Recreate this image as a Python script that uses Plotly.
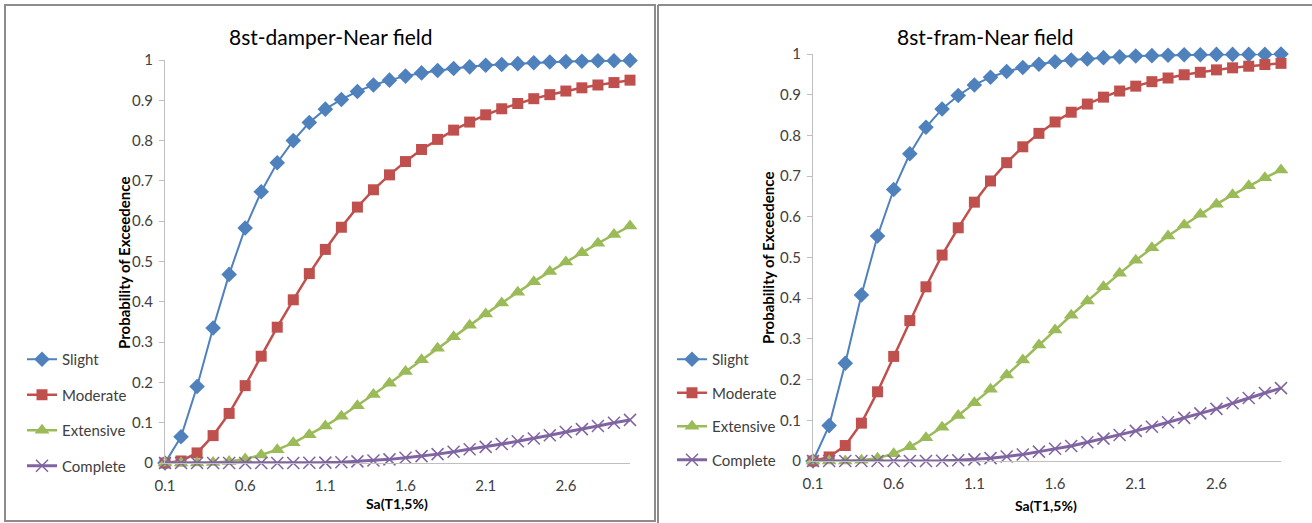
import plotly.graph_objects as go

W, H = 1312, 523

sa = [round(0.1 * i, 1) for i in range(1, 31)]
x_tick_vals = [0.1, 0.6, 1.1, 1.6, 2.1, 2.6]
x_tick_text = ["0.1", "0.6", "1.1", "1.6", "2.1", "2.6"]
series_names = ["Slight", "Moderate", "Extensive", "Complete"]

damper_slight = [0.0, 0.065, 0.19, 0.335, 0.468, 0.583, 0.673, 0.745, 0.80, 0.845,
                 0.878, 0.902, 0.922, 0.938, 0.950, 0.960, 0.968, 0.974, 0.979, 0.983,
                 0.987, 0.989, 0.991, 0.993, 0.995, 0.996, 0.997, 0.998, 0.998, 0.999]
damper_moderate = [0.0, 0.005, 0.025, 0.068, 0.123, 0.192, 0.265, 0.337, 0.405, 0.470,
                   0.530, 0.585, 0.635, 0.678, 0.715, 0.748, 0.778, 0.803, 0.826, 0.846,
                   0.864, 0.879, 0.892, 0.904, 0.914, 0.923, 0.931, 0.938, 0.944, 0.950]
damper_extensive = [0.0, 0.0, 0.0, 0.001, 0.004, 0.010, 0.020, 0.033, 0.050, 0.070,
                    0.092, 0.116, 0.142, 0.170, 0.198, 0.227, 0.256, 0.285, 0.313, 0.342,
                    0.370, 0.397, 0.424, 0.450, 0.475, 0.499, 0.522, 0.545, 0.567, 0.588]
damper_complete = [0.0, 0.0, 0.0, 0.0, 0.0, 0.0, 0.0, 0.0, 0.0, 0.0005,
                   0.001, 0.002, 0.004, 0.006, 0.009, 0.013, 0.017, 0.022, 0.028, 0.034,
                   0.040, 0.047, 0.054, 0.061, 0.069, 0.077, 0.084, 0.092, 0.100, 0.107]

fram_slight = [0.0, 0.087, 0.240, 0.408, 0.553, 0.667, 0.755, 0.820, 0.865, 0.898,
               0.924, 0.943, 0.957, 0.967, 0.975, 0.981, 0.985, 0.988, 0.991, 0.993,
               0.995, 0.996, 0.997, 0.998, 0.998, 0.999, 0.999, 0.999, 0.999, 1.0]
fram_moderate = [0.0, 0.010, 0.038, 0.093, 0.170, 0.257, 0.345, 0.428, 0.506, 0.573,
                 0.636, 0.688, 0.733, 0.772, 0.805, 0.833, 0.857, 0.877, 0.894, 0.909,
                 0.921, 0.932, 0.941, 0.949, 0.955, 0.961, 0.966, 0.970, 0.974, 0.977]
fram_extensive = [0.0, 0.0, 0.0, 0.002, 0.007, 0.018, 0.035, 0.057, 0.083, 0.112,
                  0.143, 0.176, 0.211, 0.248, 0.285, 0.322, 0.358, 0.393, 0.428, 0.461,
                  0.493, 0.524, 0.553, 0.580, 0.606, 0.631, 0.654, 0.676, 0.696, 0.715]
fram_complete = [0.0, 0.0, 0.0, 0.0, 0.0, 0.0, 0.0, 0.0, 0.0005, 0.002,
                 0.004, 0.007, 0.011, 0.016, 0.023, 0.030, 0.037, 0.046, 0.055, 0.064,
                 0.074, 0.084, 0.095, 0.106, 0.117, 0.128, 0.142, 0.155, 0.167, 0.179]

colors = ["#4F81BD", "#C0504D", "#9BBB59", "#8064A2"]
symbols = ["diamond", "square", "triangle-up", "x-thin-open"]
msizes = [12, 11, 13, 12]
lwidths = [2, 2.5, 2.5, 3]

FONT = "Lato"

def px(x):
    return x / W

def py(y):
    return 1 - y / H

fig = go.Figure()

panels = [
    dict(data=[damper_slight, damper_moderate, damper_extensive, damper_complete],
         xa="x", ya="y", legend="legend"),
    dict(data=[fram_slight, fram_moderate, fram_extensive, fram_complete],
         xa="x2", ya="y2", legend="legend2"),
]

for p in panels:
    for i, vals in enumerate(p["data"]):
        mk = dict(symbol=symbols[i], size=msizes[i], color=colors[i])
        if symbols[i] == "x-thin-open":
            mk["line"] = dict(color=colors[i], width=1.5)
        fig.add_trace(go.Scatter(
            x=sa, y=vals, name=series_names[i], mode="lines+markers",
            line=dict(color=colors[i], width=lwidths[i]),
            marker=mk, xaxis=p["xa"], yaxis=p["ya"], legend=p["legend"],
            legendgroup=p["legend"] + series_names[i], cliponaxis=False,
        ))

axis_common = dict(showgrid=False, zeroline=False, automargin=False,
                   tickfont=dict(family=FONT, size=15, color="#404040"))

xcommon = dict(axis_common, range=[0.1, 3.0], tickvals=x_tick_vals, ticktext=x_tick_text,
               showline=True, linecolor="#BFBFBF", linewidth=1, ticks="",
               ticklabelstandoff=9)
ycommon = dict(axis_common, range=[0, 1], dtick=0.1, tick0=0,
               showline=True, linecolor="#BFBFBF", linewidth=1,
               ticks="outside", ticklen=5, tickcolor="#BFBFBF", ticklabelstandoff=3)

fig.update_layout(
    width=W, height=H,
    margin=dict(l=0, r=0, t=0, b=0),
    paper_bgcolor="white", plot_bgcolor="white",
    template="none",
    xaxis=dict(xcommon, domain=[px(165), px(630)], anchor="y"),
    yaxis=dict(ycommon, domain=[py(463), py(60)], anchor="x"),
    xaxis2=dict(xcommon, domain=[px(813), px(1281)], anchor="y2"),
    yaxis2=dict(ycommon, domain=[py(461), py(54)], anchor="x2"),
    legend=dict(x=px(22), y=py(343), xanchor="left", yanchor="top",
                font=dict(family=FONT, size=15, color="#404040"),
                tracegroupgap=13, bgcolor="rgba(0,0,0,0)", itemwidth=30),
    legend2=dict(x=px(672), y=py(343), xanchor="left", yanchor="top",
                 font=dict(family=FONT, size=15, color="#404040"),
                 tracegroupgap=11, bgcolor="rgba(0,0,0,0)", itemwidth=30),
    showlegend=True,
)

annotations = [
    dict(text="8st-damper-Near field", x=px(331), y=py(36), font=dict(size=21, color="black")),
    dict(text="8st-fram-Near field", x=px(985), y=py(36), font=dict(size=21, color="black")),
    dict(text="<b>Sa(T1,5%)</b>", x=px(397), y=py(503), font=dict(size=14, color="black")),
    dict(text="<b>Sa(T1,5%)</b>", x=px(1046), y=py(505), font=dict(size=14, color="black")),
    dict(text="<b>Probability of Exceedence</b>", x=px(124), y=py(263), textangle=-90,
         font=dict(size=15, color="black")),
    dict(text="<b>Probability of Exceedence</b>", x=px(768), y=py(258), textangle=-90,
         font=dict(size=15, color="black")),
]
for a in annotations:
    a.update(xref="paper", yref="paper", showarrow=False, xanchor="center", yanchor="middle")
    a["font"]["family"] = FONT
fig.update_layout(annotations=annotations)

border = dict(color="#8C8C8C", width=2)
shapes = [
    dict(type="rect", x0=px(5), x1=px(655), y0=py(521), y1=py(5), line=border),
    dict(type="line", x0=px(658), x1=px(1312), y0=py(5), y1=py(5), line=border),
    dict(type="line", x0=px(658), x1=px(658), y0=py(5), y1=0, line=border),
]
for s in shapes:
    s.update(xref="paper", yref="paper", layer="above")
fig.update_layout(shapes=shapes)

fig.write_html("out.html", config={"displayModeBar": False},
               post_script="document.body.style.margin='0px';")
